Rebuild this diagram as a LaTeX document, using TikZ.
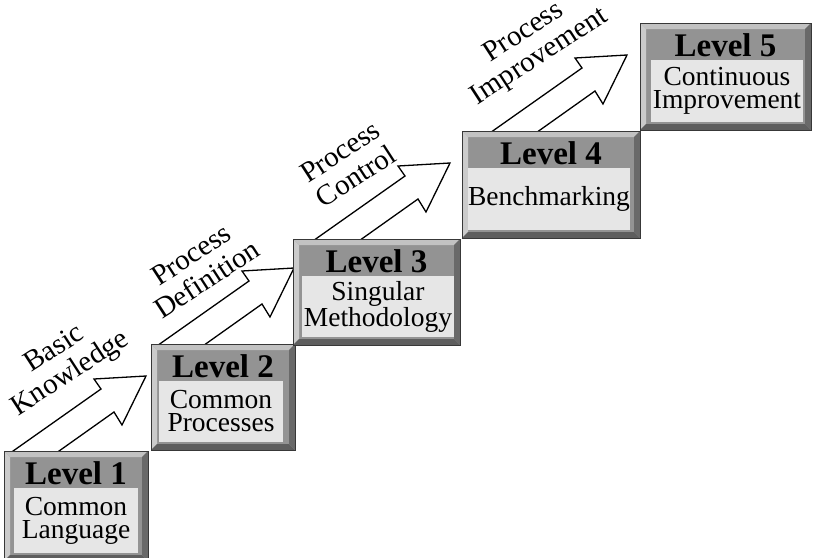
\documentclass[tikz,border=0pt]{standalone}
\usepackage{fontspec}
\setmainfont{Liberation Serif}
\definecolor{boxgray}{HTML}{939393}
\definecolor{bevlight}{HTML}{C2C2C2}
\definecolor{bevdark}{HTML}{5E5E5E}
\definecolor{boxline}{HTML}{383838}
\definecolor{innergray}{HTML}{E6E6E6}
% #1 name, #2 x1, #3 y1, #4 x2, #5 y2, #6 inner x1, #7 inner x2, #8 title, #9 body
\newcommand{\lvbox}[9]{%
  \fill[boxgray] (#2,#3) rectangle (#4,#5);
  \fill[bevlight] (#2,#3) -- (#4,#3) -- (#4-6,#3+6) -- (#2+6,#3+6) -- cycle;
  \fill[bevlight!85!white] (#2,#3) -- (#2+6,#3+6) -- (#2+6,#5-6) -- (#2,#5) -- cycle;
  \fill[bevdark] (#2,#5) -- (#2+6,#5-6) -- (#4-6,#5-6) -- (#4,#5) -- cycle;
  \fill[bevdark!80!boxgray] (#4,#3) -- (#4,#5) -- (#4-6,#5-6) -- (#4-6,#3+6) -- cycle;
  \draw[boxline,line width=1pt] (#2,#3) rectangle (#4,#5);
  \fill[innergray] (#6,#3+37) rectangle (#7,#5-8);
  \node[titletext] (#1t) at ({(#2+#4)/2},#3+33) {#8};
  \node[bodytext] (#1b) at ({(#6+#7)/2},{(#3+37+#5-8)/2}) {#9};
}
\newcommand{\blockarr}[2]{%
  \begin{scope}[shift={(#1,#2)}]
    \draw[arrowshape] (-6,4) -- (89,-63) -- (82,-73) -- (134,-76) -- (110,-27) -- (102,-40) -- (40,4) -- cycle;
  \end{scope}
}
\begin{document}
\begin{tikzpicture}[x=1pt,y=-1pt,
  arrowshape/.style={fill=white,draw=black,line width=1.3pt,line join=miter},
  titletext/.style={font=\fontsize{33}{35}\selectfont\bfseries,anchor=base,inner sep=0pt},
  bodytext/.style={font=\fontsize{27.5}{23}\selectfont,align=center,inner sep=0pt},
  labeltext/.style={font=\fontsize{29}{29}\selectfont,align=center,rotate=33,inner sep=0pt}]
\useasboundingbox (0,0) rectangle (813,557);
% arrows (behind boxes)
\blockarr{12}{452}
\blockarr{160}{344}
\blockarr{316}{239}
\blockarr{493}{131}
% labels
\node[labeltext] (lab1) at (63,362) {Basic\\Knowledge};
\node[labeltext] (lab2) at (199,267) {Process\\Definition};
\node[labeltext] (lab3) at (348,164) {Process\\Control};
\node[labeltext] (lab4) at (532,45) {Process\\Improvement};
% boxes
\lvbox{L1}{4}{451}{148}{561}{14}{138}{Level 1}{Common\\Language}
\lvbox{L2}{151}{344}{295}{450}{159}{283}{Level 2}{Common\\Processes}
\lvbox{L3}{293}{239}{460}{345}{302}{454}{Level 3}{Singular\\Methodology}
\lvbox{L4}{462}{131}{640}{238}{468}{630}{Level 4}{Benchmarking}
\lvbox{L5}{640}{23}{811}{130}{651}{803}{Level 5}{Continuous\\Improvement}
\end{tikzpicture}
\end{document}
